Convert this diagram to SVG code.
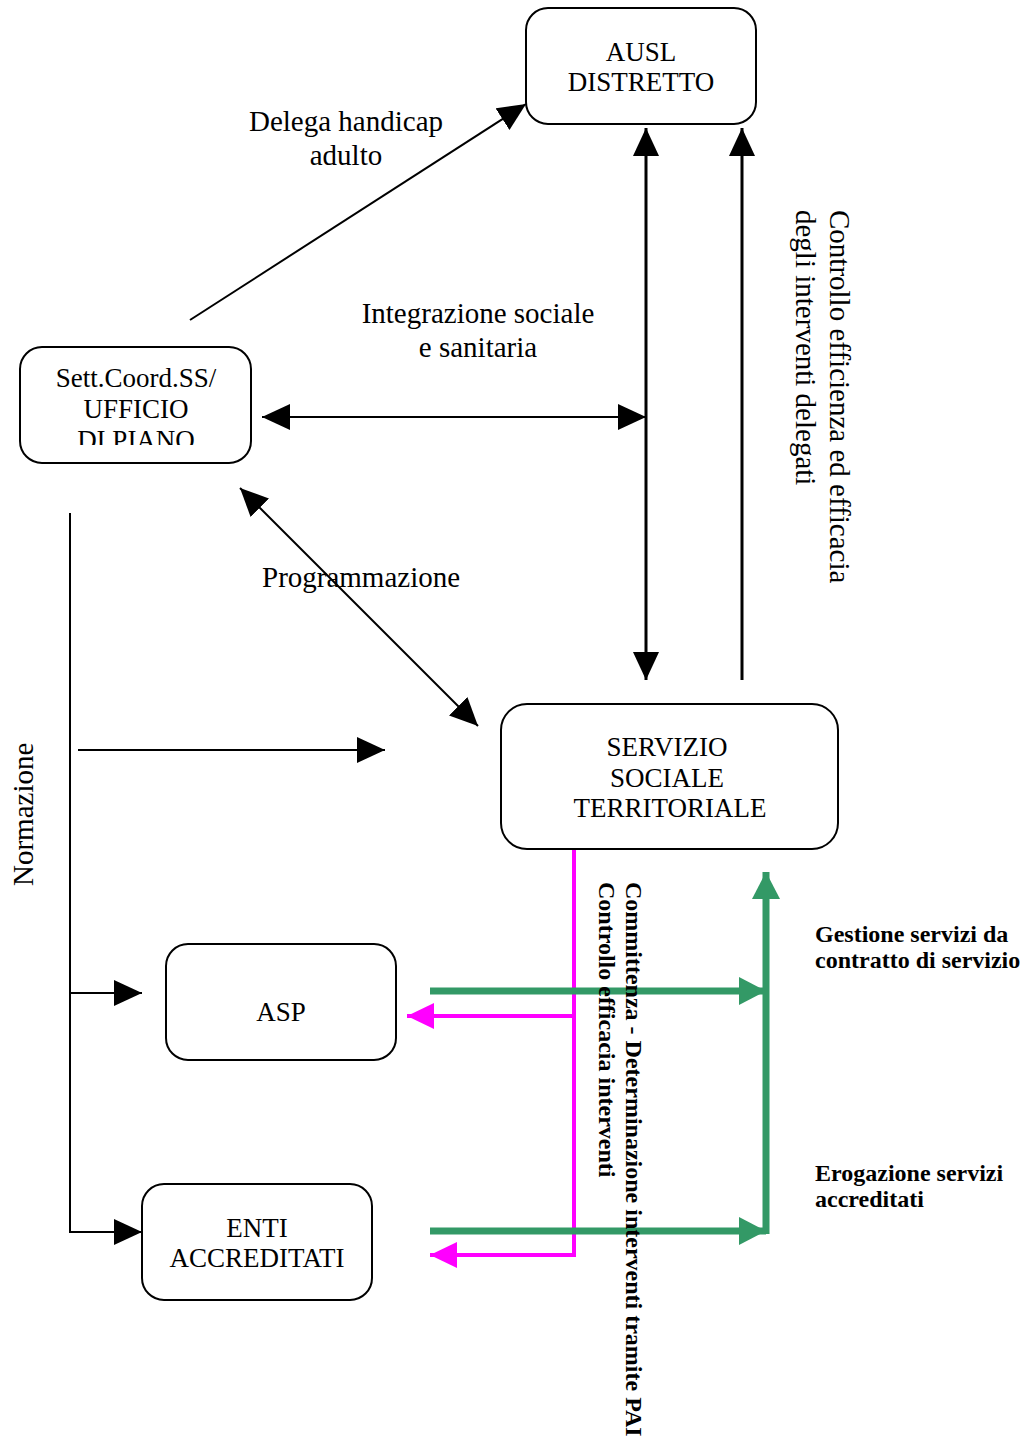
<svg xmlns="http://www.w3.org/2000/svg" width="1030" height="1443" viewBox="0 0 1030 1443">
<style>
.box{fill:#fff;stroke:#000;stroke-width:2}
.t{font-family:"Liberation Serif","Times New Roman",serif;font-size:27px;fill:#000}
.l{font-family:"Liberation Serif","Times New Roman",serif;font-size:29px;fill:#000}
.tb{font-family:"Liberation Serif","Times New Roman",serif;font-size:24px;font-weight:bold;fill:#000}
.ln{fill:none;stroke:#000;stroke-width:2}
.mg{fill:none;stroke:#FF00FF;stroke-width:4}
.gr{fill:none;stroke:#339966;stroke-width:7}
</style>
<defs>
<marker id="ab" markerUnits="userSpaceOnUse" markerWidth="30" markerHeight="28" refX="28" refY="13" orient="auto-start-reverse"><path d="M0,0 L28,13 L0,26 z" fill="#000"/></marker>
<marker id="am" markerUnits="userSpaceOnUse" markerWidth="30" markerHeight="28" refX="27" refY="13" orient="auto"><path d="M0,0 L27,13 L0,26 z" fill="#FF00FF"/></marker>
<marker id="ag" markerUnits="userSpaceOnUse" markerWidth="30" markerHeight="30" refX="27" refY="14" orient="auto"><path d="M0,0 L27,14 L0,28 z" fill="#339966"/></marker>
<clipPath id="cp1"><rect x="20" y="347" width="231" height="98"/></clipPath>
</defs>

<g id="connectors">
<line class="ln" x1="190" y1="320" x2="526" y2="104" marker-end="url(#ab)"/>
<line class="ln" x1="646" y1="128" x2="646" y2="680" style="stroke-width:3" marker-start="url(#ab)" marker-end="url(#ab)"/>
<line class="ln" x1="742" y1="680" x2="742" y2="128" style="stroke-width:3" marker-end="url(#ab)"/>
<line class="ln" x1="262" y1="417" x2="646" y2="417" marker-start="url(#ab)" marker-end="url(#ab)"/>
<line class="ln" x1="240" y1="488" x2="478" y2="726" marker-start="url(#ab)" marker-end="url(#ab)"/>
<line class="ln" x1="70" y1="513" x2="70" y2="1233"/>
<line class="ln" x1="78" y1="750" x2="385" y2="750" marker-end="url(#ab)"/>
<line class="ln" x1="70" y1="993" x2="142" y2="993" marker-end="url(#ab)"/>
<line class="ln" x1="70" y1="1232" x2="142" y2="1232" marker-end="url(#ab)"/>
<polyline class="mg" points="574,849 574,1255 430,1255" marker-end="url(#am)"/>
<line class="mg" x1="574" y1="1016" x2="407" y2="1016" marker-end="url(#am)"/>
<line class="gr" x1="430" y1="991" x2="766" y2="991" marker-end="url(#ag)"/>
<line class="gr" x1="430" y1="1231" x2="766" y2="1231" marker-end="url(#ag)"/>
<line class="gr" x1="766" y1="1234" x2="766" y2="872" marker-end="url(#ag)"/>
</g>

<g id="node-ausl">
<rect class="box" x="526" y="8" width="230" height="116" rx="22"/>
<text class="t" x="641" y="61" text-anchor="middle">AUSL</text>
<text class="t" x="641" y="91" text-anchor="middle">DISTRETTO</text>
</g>

<g id="node-sett">
<rect class="box" x="20" y="347" width="231" height="116" rx="22"/>
<g clip-path="url(#cp1)">
<text class="t" x="136" y="387" text-anchor="middle">Sett.Coord.SS/</text>
<text class="t" x="136" y="418" text-anchor="middle">UFFICIO</text>
<text class="t" x="136" y="449" text-anchor="middle">DI PIANO</text>
</g>
</g>

<g id="node-sst">
<rect class="box" x="501" y="704" width="337" height="145" rx="26"/>
<text class="t" x="667" y="756" text-anchor="middle">SERVIZIO</text>
<text class="t" x="667" y="787" text-anchor="middle">SOCIALE</text>
<text class="t" x="670" y="817" text-anchor="middle">TERRITORIALE</text>
</g>

<g id="node-asp">
<rect class="box" x="166" y="944" width="230" height="116" rx="22"/>
<text class="t" x="281" y="1021" text-anchor="middle">ASP</text>
</g>

<g id="node-enti">
<rect class="box" x="142" y="1184" width="230" height="116" rx="22"/>
<text class="t" x="257" y="1237" text-anchor="middle">ENTI</text>
<text class="t" x="257" y="1267" text-anchor="middle">ACCREDITATI</text>
</g>

<g id="labels">
<text class="l" x="346" y="131" text-anchor="middle">Delega handicap</text>
<text class="l" x="346" y="165" text-anchor="middle">adulto</text>
<text class="l" x="478" y="323" text-anchor="middle">Integrazione sociale</text>
<text class="l" x="478" y="357" text-anchor="middle">e sanitaria</text>
<text class="l" x="262" y="587">Programmazione</text>
<text class="l" transform="translate(33,886) rotate(-90)">Normazione</text>
<text class="l" transform="translate(830,210) rotate(90)">Controllo efficienza ed efficacia</text>
<text class="l" transform="translate(796,210) rotate(90)">degli interventi delegati</text>
<text class="tb" transform="translate(626,882) rotate(90)">Committenza - Determinazione interventi tramite PAI</text>
<text class="tb" transform="translate(599,882) rotate(90)">Controllo efficacia interventi</text>
<text class="tb" x="815" y="942">Gestione servizi da</text>
<text class="tb" x="815" y="968">contratto di servizio</text>
<text class="tb" x="815" y="1181">Erogazione servizi</text>
<text class="tb" x="815" y="1207">accreditati</text>
</g>
</svg>
